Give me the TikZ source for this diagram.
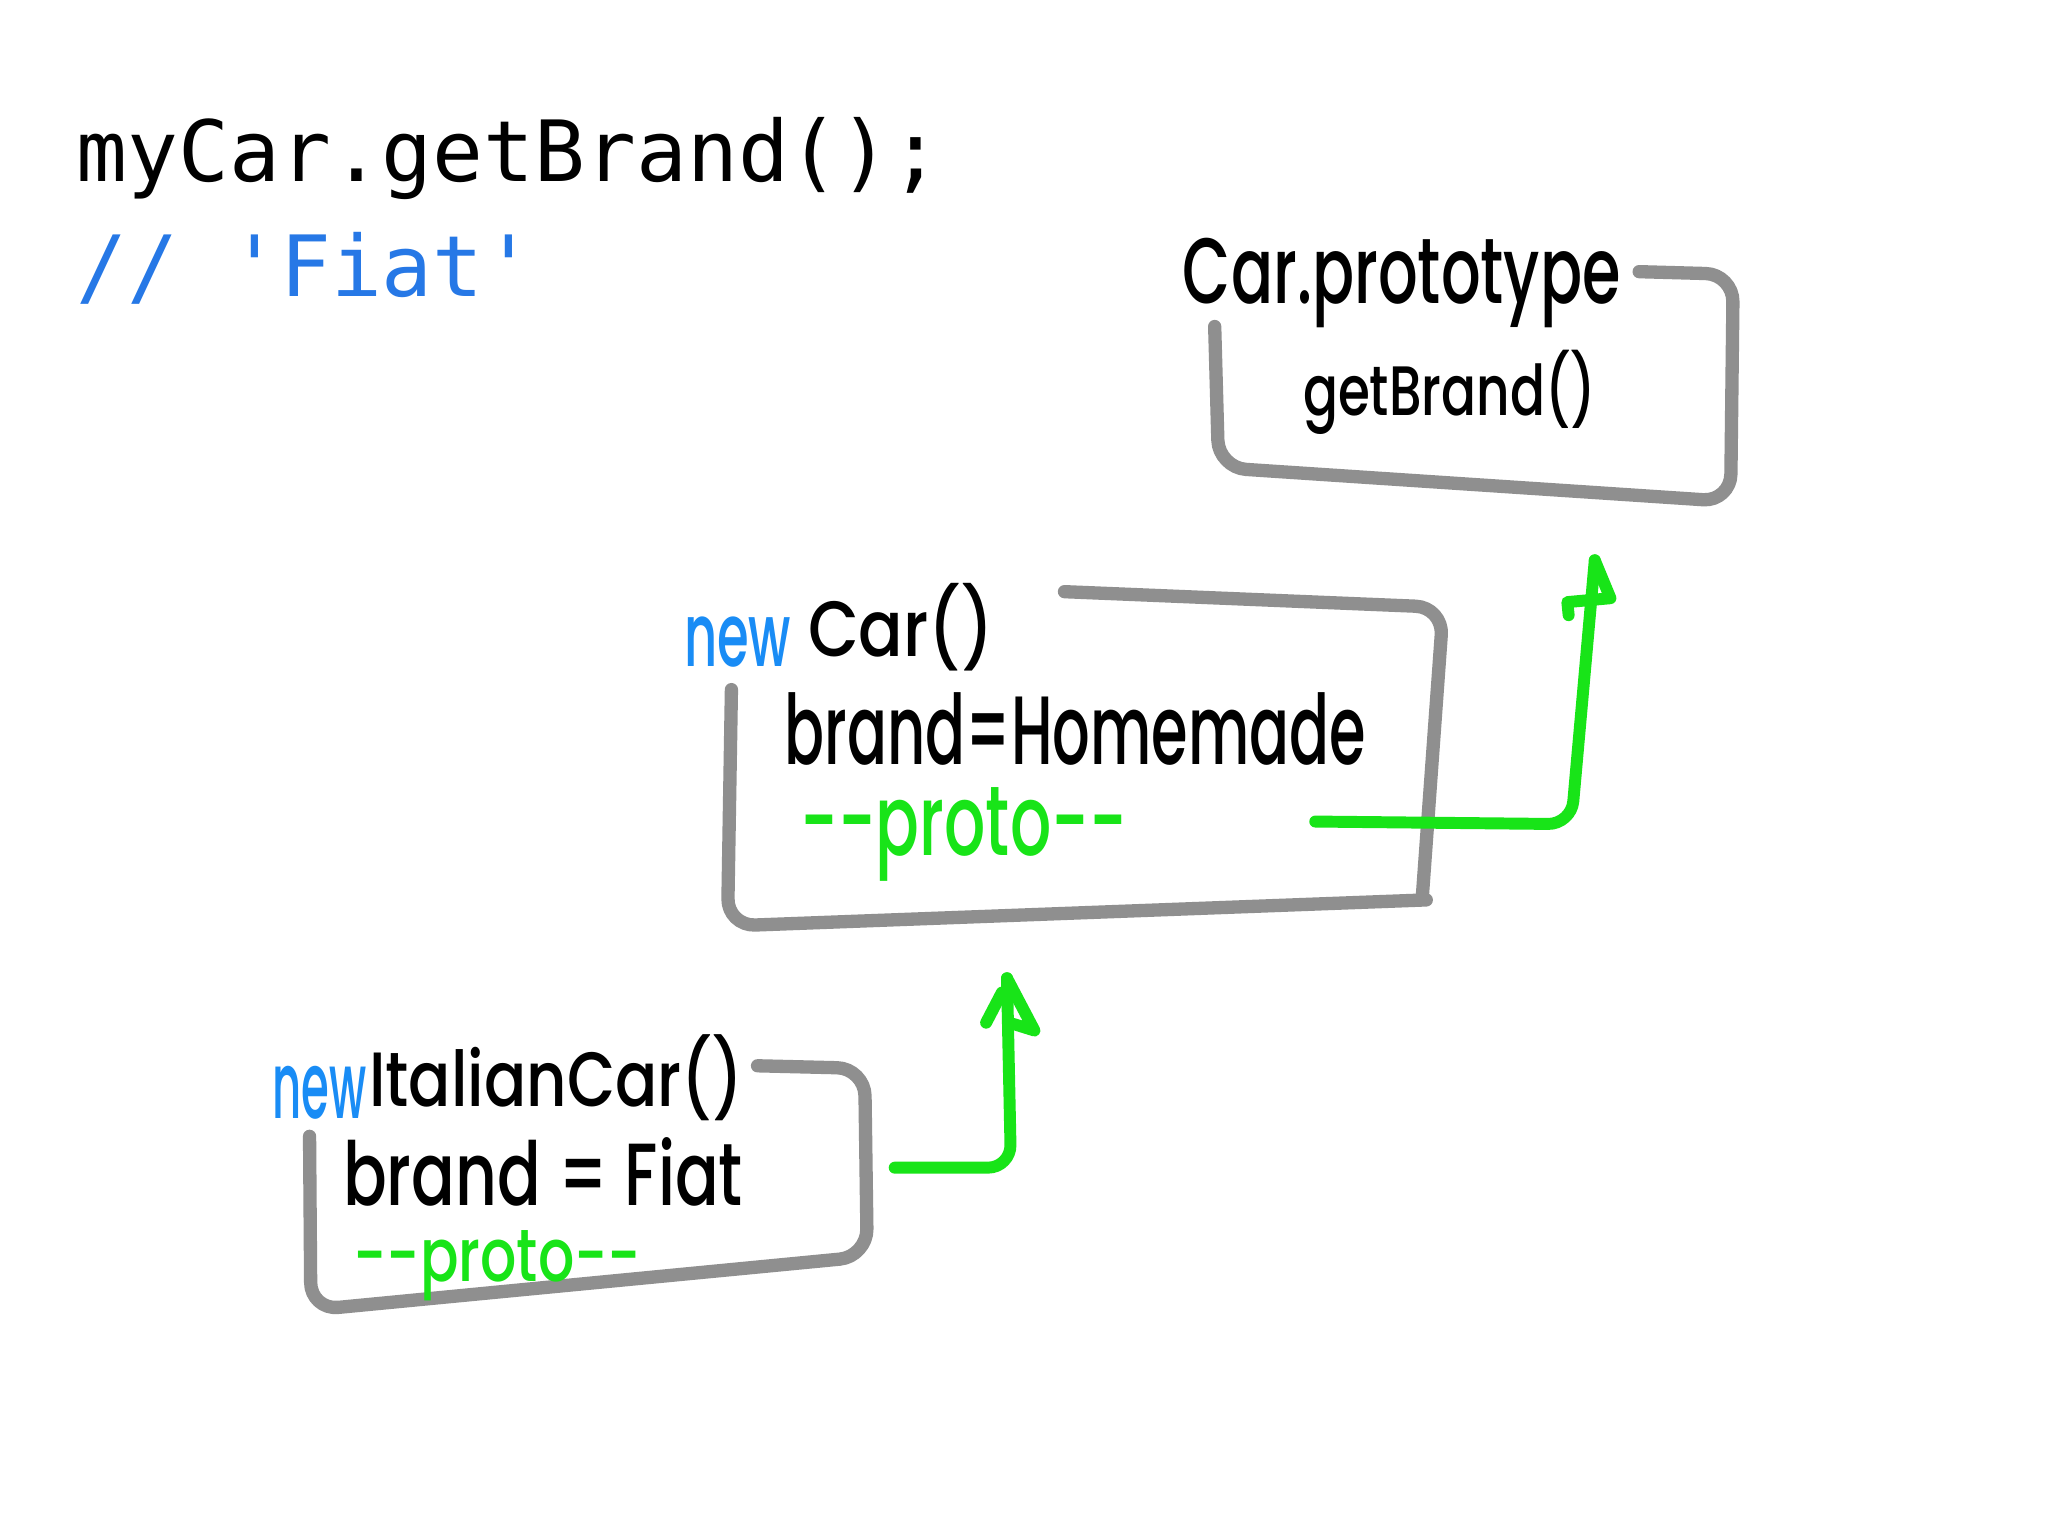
\documentclass[tikz,border=0pt]{standalone}
\usepackage{fontspec}
\setmonofont{DejaVu Sans Mono}
\newfontfamily\hand{Poppins Medium}
\definecolor{codeblue}{RGB}{38,120,230}
\definecolor{newblue}{RGB}{25,140,245}
\definecolor{boxgray}{RGB}{143,143,143}
\definecolor{pgreen}{RGB}{24,228,24}
\newcommand{\hw}[3]{\resizebox{#1}{#2}{\hand #3}}
\begin{document}
\begin{tikzpicture}[x=0.01cm,y=-0.01cm,
  code/.style={anchor=base west,inner sep=0pt,font=\ttfamily\fontsize{18.4pt}{22pt}\selectfont},
  hand/.style={anchor=base west,inner sep=0pt},
  box/.style={draw=boxgray,line width=2.9pt,line cap=round,line join=round,rounded corners=6pt},
  gline/.style={draw=pgreen,line width=2.6pt,line cap=round,line join=round}]
\useasboundingbox (0,0) rectangle (1568,1176);
\fill[white] (0,0) rectangle (1568,1176);

% code
\node[code] (t1) at (58,139) {myCar.getBrand();};
\node[code,text=codeblue] (t2) at (58,227) {// 'Fiat'};

% Car.prototype box
\draw[box] (1255,208) -- (1327,210) -- (1325,384) -- (933,358) -- (930,250);
\node[hand] (cp) at (905,232) {\hw{3.35cm}{0.50cm}{Car.prototype}};
\node[hand] (gb) at (997,318) {\hw{2.24cm}{0.50cm}{getBrand()}};

% new Car() box
\draw[box] (815,453) -- (1105,465) -- (1089,686);
\draw[box] (1092,689) -- (557,709) -- (560,528);
\node[hand,text=newblue] (new1) at (523,510) {\hw{0.82cm}{0.38cm}{new}};
\node[hand] (car) at (618,503) {\hw{1.42cm}{0.56cm}{Car()}};
\node[hand] (b1) at (600,585) {\hw{4.45cm}{0.55cm}{brand=Homemade}};
\node[hand,text=pgreen] (pr1) at (612,655) {\hw{2.50cm}{0.52cm}{-{}-proto-{}-}};

% new ItalianCar() box
\draw[box] (580,816) -- (662,818) -- (664,962) -- (238,1003) -- (237,870);
\node[hand,text=newblue] (new2) at (208,856) {\hw{0.72cm}{0.40cm}{new}};
\node[hand] (ic) at (282,847) {\hw{2.86cm}{0.55cm}{ItalianCar()}};
\node[hand] (b2) at (262,923) {\hw{3.06cm}{0.52cm}{brand = Fiat}};
\node[hand,text=pgreen] (pr2) at (270,981) {\hw{2.20cm}{0.39cm}{-{}-proto-{}-}};

% green proto links
\coordinate (a1s) at (1007,629);
\coordinate (a1c) at (1203,631);
\coordinate (a1t) at (1221,429);
\draw[gline,rounded corners=5pt] (a1s) -- (a1c) -- (a1t);
\draw[gline] (a1t) -- (1233,458) -- (1200,461) -- (1201,471);

\coordinate (a2s) at (685,894);
\coordinate (a2c) at (774,894);
\coordinate (a2t) at (771,749);
\draw[gline,rounded corners=5pt] (a2s) -- (a2c) -- (a2t);
\draw[gline] (a2t) -- (792,789) -- (776,784);
\draw[gline] (767,760) -- (755,783);
\end{tikzpicture}
\end{document}
